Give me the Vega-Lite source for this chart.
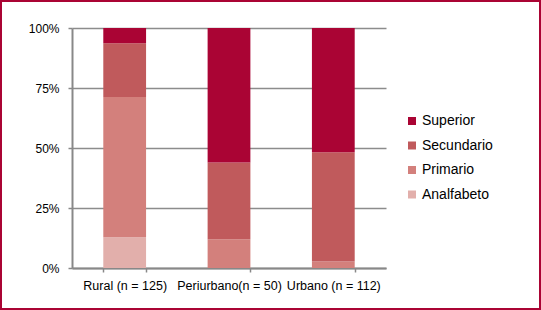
{
  "$schema": "https://vega.github.io/schema/vega-lite/v6.json",
  "width": 314,
  "height": 240,
  "autosize": {"type": "none"},
  "padding": {"left": 72, "top": 28, "right": 155, "bottom": 42},
  "background": "white",
  "data": {
    "values": [
      {"zona": "Rural (n = 125)", "nivel": "Analfabeto", "orden": 1, "pct": 12.8},
      {"zona": "Rural (n = 125)", "nivel": "Primario", "orden": 2, "pct": 58.4},
      {"zona": "Rural (n = 125)", "nivel": "Secundario", "orden": 3, "pct": 22.4},
      {"zona": "Rural (n = 125)", "nivel": "Superior", "orden": 4, "pct": 6.4},
      {"zona": "Periurbano(n = 50)", "nivel": "Analfabeto", "orden": 1, "pct": 0},
      {"zona": "Periurbano(n = 50)", "nivel": "Primario", "orden": 2, "pct": 12},
      {"zona": "Periurbano(n = 50)", "nivel": "Secundario", "orden": 3, "pct": 32},
      {"zona": "Periurbano(n = 50)", "nivel": "Superior", "orden": 4, "pct": 56},
      {"zona": "Urbano (n = 112)", "nivel": "Analfabeto", "orden": 1, "pct": 0},
      {"zona": "Urbano (n = 112)", "nivel": "Primario", "orden": 2, "pct": 2.7},
      {"zona": "Urbano (n = 112)", "nivel": "Secundario", "orden": 3, "pct": 45.5},
      {"zona": "Urbano (n = 112)", "nivel": "Superior", "orden": 4, "pct": 51.8}
    ]
  },
  "encoding": {
    "x": {
      "field": "zona",
      "type": "nominal",
      "sort": ["Rural (n = 125)", "Periurbano(n = 50)", "Urbano (n = 112)"],
      "scale": {"paddingInner": 0.59, "paddingOuter": 0.3},
      "axis": {
        "title": null,
        "labelAngle": 0,
        "tickBand": "extent",
        "tickSize": 4,
        "tickColor": "#888888",
        "tickWidth": 1.5,
        "domainColor": "#888888",
        "domainWidth": 2,
        "labelFontSize": 12.5,
        "labelPadding": 7.5,
        "labelColor": "#000000",
        "labelFont": "Liberation Sans",
        "grid": false
      }
    },
    "y": {
      "field": "pct",
      "type": "quantitative",
      "stack": "normalize",
      "scale": {"domain": [0, 1]},
      "axis": {
        "title": null,
        "values": [0, 0.25, 0.5, 0.75, 1],
        "format": ".0%",
        "grid": true,
        "gridColor": "#8C8C8C",
        "gridWidth": 1.5,
        "domainColor": "#888888",
        "domainWidth": 2,
        "tickColor": "#888888",
        "tickWidth": 1.5,
        "tickSize": 4,
        "labelPadding": 9,
        "labelFontSize": 12,
        "labelColor": "#000000",
        "labelFont": "Liberation Sans"
      }
    },
    "order": {"field": "orden", "type": "quantitative"}
  },
  "layer": [
    {
      "mark": {"type": "bar"},
      "encoding": {
        "color": {
          "field": "nivel",
          "type": "nominal",
          "scale": {
            "domain": ["Superior", "Secundario", "Primario", "Analfabeto"],
            "range": ["#AA0434", "#C05A5C", "#D3807C", "#E2AFAB"]
          },
          "legend": {
            "title": null,
            "orient": "none",
            "legendX": 333,
            "legendY": 86,
            "symbolType": "square",
            "symbolSize": 64,
            "symbolStrokeWidth": 0,
            "labelFontSize": 14,
            "labelFont": "Liberation Sans",
            "labelColor": "#000000",
            "labelOffset": 3,
            "rowPadding": 10.5,
            "padding": 0
          }
        }
      }
    },
    {
      "mark": {"type": "bar", "opacity": 0, "strokeWidth": 0},
      "encoding": {
        "stroke": {
          "field": "orden",
          "type": "quantitative",
          "scale": {"range": ["rgba(255,255,255,0)", "rgba(255,255,255,0)"]},
          "legend": {
            "title": null,
            "orient": "none",
            "direction": "vertical",
            "legendX": -71,
            "legendY": -27,
            "padding": 0,
            "gradientLength": 308,
            "gradientThickness": 539,
            "gradientStrokeColor": "#AA0434",
            "gradientStrokeWidth": 2,
            "labelOpacity": 0,
            "labelExpr": "''"
          }
        }
      }
    }
  ],
  "config": {"view": {"stroke": null}, "font": "Liberation Sans"}
}
